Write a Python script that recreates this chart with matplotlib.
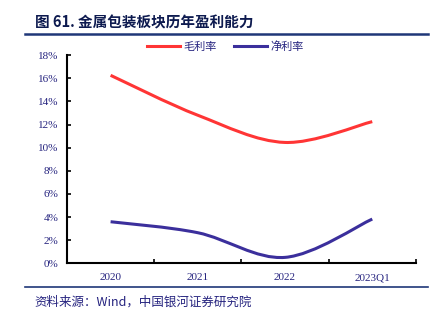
import matplotlib
matplotlib.use("Agg")
import matplotlib.pyplot as plt
from matplotlib.path import Path
from matplotlib.patches import PathPatch
from matplotlib.lines import Line2D
import numpy as np

plt.rcParams['font.family'] = ['Noto Sans CJK SC', 'DejaVu Sans']

categories = ['2020', '2021', '2022', '2023Q1']
gross_margin = [16.25, 12.8, 10.45, 12.25]
net_margin = [3.6, 2.65, 0.52, 3.83]
yticks = [0, 2, 4, 6, 8, 10, 12, 14, 16, 18]
series_names = ['毛利率', '净利率']
title = '图 61. 金属包装板块历年盈利能力'
source = '资料来源：Wind，中国银河证券研究院'

RED = '#ff3535'
BLUE = '#3b2f9c'
NAVY = '#25237f'
TITLE_C = '#0d1a4f'
RULE_C = '#1f3778'

fig = plt.figure(figsize=(4.35, 3.22), dpi=100)
ax = fig.add_axes([0.154, 0.182, 0.802, 0.647])


def smooth_path(xs, ys, t=1/6):
    pts = np.column_stack([xs, ys]).astype(float)
    n = len(pts)
    verts = [tuple(pts[0])]
    codes = [Path.MOVETO]
    for i in range(n - 1):
        p0 = pts[i - 1] if i > 0 else pts[i]
        p1 = pts[i]
        p2 = pts[i + 1]
        p3 = pts[i + 2] if i + 2 < n else pts[i + 1]
        c1 = p1 + (p2 - p0) * t
        c2 = p2 - (p3 - p1) * t
        verts += [tuple(c1), tuple(c2), tuple(p2)]
        codes += [Path.CURVE4] * 3
    return Path(verts, codes)


x = np.arange(len(categories))
for vals, col in [(gross_margin, RED), (net_margin, BLUE)]:
    ax.add_patch(PathPatch(smooth_path(x, vals), facecolor='none',
                           edgecolor=col, lw=2.2, capstyle='butt'))

ax.set_xlim(-0.5, len(categories) - 0.5)
ax.set_ylim(0, 18)
ax.set_yticks(yticks)
ax.set_yticklabels([f'{v}%' for v in yticks], fontfamily='Liberation Serif',
                   fontsize=8, color=NAVY)
ax.set_xticks(np.arange(len(categories) + 1) - 0.5)
ax.set_xticklabels([])
ax.set_xticks(x, minor=True)
ax.set_xticklabels(categories, minor=True, fontfamily='Liberation Serif',
                   fontsize=8, color=NAVY)
ax.tick_params(axis='x', which='major', direction='in', length=3, width=1.2)
ax.tick_params(axis='x', which='minor', length=0, pad=7)
ax.tick_params(axis='y', direction='in', length=3, width=1.2, pad=6)
for s in ['top', 'right']:
    ax.spines[s].set_visible(False)
for s in ['left', 'bottom']:
    ax.spines[s].set_linewidth(1.5)
    ax.spines[s].set_color('black')

handles = [Line2D([], [], color=RED, lw=2.2), Line2D([], [], color=BLUE, lw=2.2)]
leg = fig.legend(handles, series_names, loc='center', bbox_to_anchor=(0.518, 0.855),
                 ncol=2, frameon=False, fontsize=8, handlelength=3.0,
                 handletextpad=0.3, columnspacing=1.5, labelcolor=NAVY)

fig.text(0.08, 0.93, title, fontsize=10.5, fontweight='bold', color=TITLE_C,
         ha='left', va='center')
fig.add_artist(Line2D([0.058, 0.984], [0.895, 0.895], color=RULE_C, lw=1.8,
                      transform=fig.transFigure))
fig.add_artist(Line2D([0.058, 0.984], [0.108, 0.108], color=RULE_C, lw=1.2,
                      transform=fig.transFigure))
fig.text(0.08, 0.063, source, fontsize=9, color=NAVY, ha='left', va='center',
         style='italic')

fig.savefig('out.png', dpi=100)
